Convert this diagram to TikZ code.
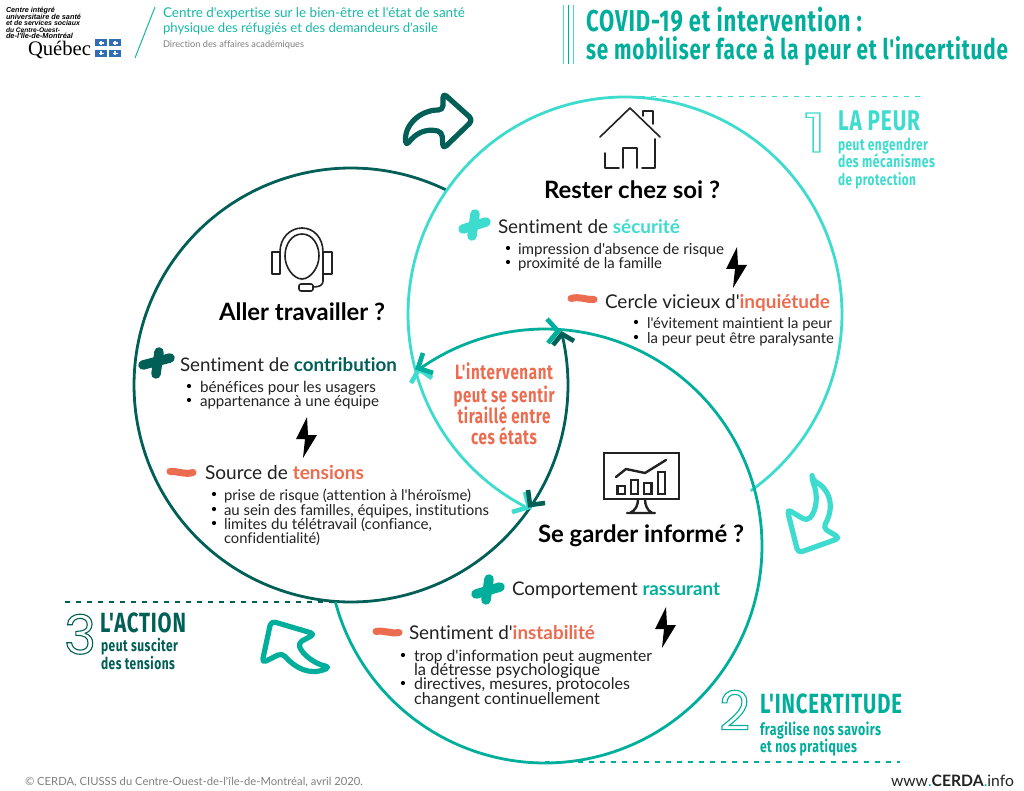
\documentclass[tikz,border=0pt]{standalone}
\usepackage{graphicx}
\usepackage{fontspec}
\setmainfont{Lato}[Ligatures={TeXOff,NoCommon}]
\newfontfamily\headf[FakeStretch=0.73,LetterSpace=3,Ligatures=TeXOff]{Fira Sans}
\newfontfamily\logof{Liberation Sans}
\newfontfamily\qcf{Liberation Serif}
\newfontfamily\digf{Poppins}
\definecolor{lt}{HTML}{3EDCCE}
\definecolor{md}{HTML}{00AE9C}
\definecolor{dk}{HTML}{005F56}
\definecolor{og}{HTML}{EC6C50}
\definecolor{ink}{HTML}{222222}
\definecolor{hdr}{HTML}{18B8A5}
\definecolor{qb}{HTML}{2F6DB5}
\newcommand{\ftx}[2]{\resizebox{#1pt}{!}{\fontsize{17}{20}\selectfont #2}}
\newcommand{\hfx}[2]{\resizebox{#1pt}{!}{\fontsize{20}{24}\selectfont\headf\bfseries #2}}
\newcommand{\outl}[1]{\special{pdf:code 1 Tr 1.1 w}#1\special{pdf:code 0 Tr}}
\newcommand{\boltat}[2]{\fill[black,shift={(#1,#2)}] (1,-20) -- (-10,2) -- (-1,2) -- (-3,21) -- (11,-2) -- (2,-2) -- cycle;}
\tikzset{
 txt/.style={anchor=base west,inner sep=0pt,outer sep=0pt,text=ink,yshift=-1.5pt},
 bul/.style={circle,fill=black,inner sep=0pt,minimum size=4.2pt},
 arr/.style={line width=5.2pt,line join=round,rounded corners=4.5pt},
 ring/.style={line width=2.8pt},
 barb/.style={line width=4.6pt,line cap=butt,line join=miter},
 icon/.style={line width=1.6pt,color=ink,line cap=round,line join=round},
 pl/.style={line width=9.5pt,line cap=round},
 mn/.style={line width=7pt,line cap=round,color=og},
 dsh/.style={line width=1.5pt,dash pattern=on 5pt off 6pt},
 dgt/.style={anchor=base west,inner sep=0pt,font=\fontsize{54}{54}\selectfont\digf},
}
\begin{document}
\begin{tikzpicture}[x=1pt,y=-1pt]
\useasboundingbox[fill=white] (0,0) rectangle (1024,791);
% logo
\node[txt,text=black] (l1) at (6,11) {\resizebox{49pt}{!}{\logof\bfseries\itshape Centre intégré}};
\node[txt,text=black] (l2) at (6,18) {\resizebox{75pt}{!}{\logof\bfseries\itshape universitaire de santé}};
\node[txt,text=black] (l3) at (6,24.5) {\resizebox{74pt}{!}{\logof\bfseries\itshape et de services sociaux}};
\node[txt,text=black] (l4) at (6,31) {\resizebox{54pt}{!}{\logof\bfseries\itshape du Centre-Ouest-}};
\node[txt,text=black] (l5) at (6,37.5) {\resizebox{67pt}{!}{\logof\bfseries\itshape de-l'Île-de-Montréal}};
\node[txt,text=black] (qc) at (28,54) {\resizebox{63pt}{!}{\qcf Québec}};
\foreach \a/\b in {95/39.5,109/39.5,95/50,109/50}{
 \fill[qb] (\a,\b) rectangle ++(12,7);
 \draw[white,line width=1.2pt] (\a+6,\b+1.5) -- (\a+6,\b+5.5) (\a+3.5,\b+3.5) -- (\a+8.5,\b+3.5);
}
\draw[hdr,line width=1pt] (155,7) -- (135,58);
\node[txt,text=hdr] (h1) at (163,16.5) {\ftx{302}{Centre d'expertise sur le bien-être et l'état de santé}};
\node[txt,text=hdr] (h2) at (163,31.5) {\ftx{275}{physique des réfugiés et des demandeurs d'asile}};
\node[txt,text=gray] (h3) at (163,46.5) {\ftx{141}{Direction des affaires académiques}};
% title
\draw[lt,line width=1.2pt] (563.5,5) -- (563.5,64);
\draw[md,line width=1.2pt] (568.5,5) -- (568.5,64);
\draw[lt,line width=1.2pt] (573.5,5) -- (573.5,64);
\node[txt,text=md] (t1) at (586,30) {\hfx{276}{COVID-19 et intervention :}};
\node[txt,text=md] (t2) at (586,58) {\hfx{422}{se mobiliser face à la peur et l'incertitude}};
% dashed
\draw[dsh,lt] (640,96.5) -- (920,96.5);
\draw[dsh,md] (545,762) -- (900,762);
\draw[dsh,dk] (65,602) -- (350,602);
% rings
\draw[ring,dk] plot[domain=-374:-64,samples=200] ({351+217*cos(\x)},{385+217*sin(\x)});
\draw[ring,lt] plot[domain=-242.4:54.6,samples=200] ({625+217*cos(\x)},{314+217*sin(\x)});
\draw[ring,md] plot[domain=-125.8:165,samples=200] ({545+217*cos(\x)},{546+217*sin(\x)});
% barbs
\draw[barb,lt] (411,383) -- (419,369) -- (432,378);
\draw[barb,md] (423,353) -- (418,368) -- (433,373);
\draw[barb,md] (547,319) -- (558,331) -- (548,343);
\draw[barb,dk] (553,345) -- (562,334) -- (574,341);
\draw[barb,lt] (512,512) -- (529,507) -- (525,492);
\draw[barb,dk] (528,490) -- (530,505) -- (545,503);
% arrows
\draw[arr,dk] (443,93) -- (473,120) -- (443,149) -- (442,132) .. controls (425,128) and (415,134) .. (406,146) .. controls (404,125) and (420,110) .. (443,110) -- cycle;
\draw[arr,md] (271,621) -- (315,634) -- (298,643) .. controls (303,655) and (315,664) .. (330,667) .. controls (310,676) and (295,668) .. (282,653) -- (262,663) -- cycle;
\draw[arr,lt] (812,480) .. controls (828,488) and (836,505) .. (823,528) -- (840,538) -- (798,553) -- (787,509) -- (807,521) .. controls (817,510) and (818,495) .. (812,480) -- cycle;
% house
\draw[icon] (600,137) -- (630,108) -- (660,137);
\draw[icon] (643,116) -- (643,111) -- (653,111) -- (653,124);
\draw[icon] (655,139) -- (655,168) -- (642,168);
\draw[icon] (605,153) -- (605,168) -- (619,168);
\draw[icon] (623,168) -- (623,148) -- (637,148) -- (637,168);
% monitor
\draw[icon,line width=2.4pt,line cap=butt,line join=miter] (604,453) rectangle (679,499);
\draw[icon,line width=2.4pt] (638,499) .. controls (638,505) and (636,510) .. (630,513) (645,499) .. controls (645,505) and (647,510) .. (652,513) (627,513) -- (655,513);
\draw[icon,line width=2.4pt,line cap=butt,line join=miter] (617.5,486) rectangle (625,494) (631,480) rectangle (638,494) (644,483) rectangle (651.5,494) (658,472) rectangle (665,494);
\draw[icon,line width=2.4pt] (616,477) -- (626,469) -- (645,473) -- (666,460);
% headset
\draw[icon] (272,252) rectangle (280,274) (323,252) rectangle (332,274);
\draw[icon] (280,252) .. controls (280,238) and (290,228) .. (302,228) .. controls (314,228) and (323,238) .. (323,252);
\draw[icon] (302,234) .. controls (312,234) and (319,244) .. (319,256) .. controls (319,268) and (310,279) .. (302,279) .. controls (294,279) and (285,268) .. (285,256) .. controls (285,244) and (292,234) .. (302,234);
\draw[icon] (323,274) -- (323,281) .. controls (323,285) and (320,287) .. (313,287);
\draw[icon,rounded corners=2pt] (299,284) rectangle (313,291);
% plus / minus
\draw[pl,lt] (475,214) -- (472,236) (463,229) -- (486,222);
\draw[pl,dk] (159,352) -- (156,374) (143,365) -- (170,358);
\draw[pl,md] (489,579) -- (486,600) (476,594) -- (500,587);
\draw[mn] (571,298.5) .. controls (580,296) and (585,300) .. (594,299.5);
\draw[mn] (170,471.5) .. controls (178,471) and (185,475) .. (193,472.5);
\draw[mn] (376,631.5) .. controls (385,630) and (390,634) .. (399,632.5);
% bolts
\boltat{736}{267}
\boltat{306}{437}
\boltat{665}{627}
% house text
\node[txt,text=black] (a0) at (544,197) {\ftx{176}{\bfseries Rester chez soi ?}};
\node[txt] (a1) at (498,232) {\ftx{182}{Sentiment de \textbf{\color{lt}sécurité}}};
\node[bul] (ab1) at (508,248) {};
\node[txt] (a2) at (518,253) {\ftx{206}{impression d'absence de risque}};
\node[bul] (ab2) at (508,262) {};
\node[txt] (a3) at (518,267) {\ftx{144}{proximité de la famille}};
\node[txt] (a4) at (605,307) {\ftx{225}{Cercle vicieux d'\textbf{\color{og}inquiétude}}};
\node[bul] (ab3) at (636,322) {};
\node[txt] (a5) at (647,327) {\ftx{185}{l'évitement maintient la peur}};
\node[bul] (ab4) at (636,337) {};
\node[txt] (a6) at (647,342) {\ftx{187}{la peur peut être paralysante}};
% work text
\node[txt,text=black] (b0) at (219,319) {\ftx{166}{\bfseries Aller travailler ?}};
\node[txt] (b1) at (180,370) {\ftx{217}{Sentiment de \textbf{\color{dk}contribution}}};
\node[bul] (bb1) at (189,386) {};
\node[txt] (b2) at (200,391) {\ftx{176}{bénéfices pour les usagers}};
\node[bul] (bb2) at (189,400) {};
\node[txt] (b3) at (200,405) {\ftx{179}{appartenance à une équipe}};
\node[txt] (b4) at (205,478) {\ftx{159}{Source de \textbf{\color{og}tensions}}};
\node[bul] (bb3) at (214,494) {};
\node[txt] (b5) at (224,499) {\ftx{247}{prise de risque (attention à l'héroïsme)}};
\node[bul] (bb4) at (214,509) {};
\node[txt] (b6) at (224,514) {\ftx{265}{au sein des familles, équipes, institutions}};
\node[bul] (bb5) at (214,523) {};
\node[txt] (b7) at (224,528) {\ftx{208}{limites du télétravail (confiance,}};
\node[txt] (b8) at (224,542) {\ftx{96}{confidentialité)}};
% info text
\node[txt,text=black] (c0) at (538,541) {\ftx{206}{\bfseries Se garder informé ?}};
\node[txt] (c1) at (512,594) {\ftx{208}{Comportement \textbf{\color{md}rassurant}}};
\node[txt] (c2) at (409,638) {\ftx{186}{Sentiment d'\textbf{\color{og}instabilité}}};
\node[bul] (cb1) at (403,655) {};
\node[txt] (c3) at (414,660) {\ftx{238}{trop d'information peut augmenter}};
\node[txt] (c4) at (414,674) {\ftx{186}{la détresse psychologique}};
\node[bul] (cb2) at (403,683) {};
\node[txt] (c5) at (414,688) {\ftx{216}{directives, mesures, protocoles}};
\node[txt] (c6) at (414,703) {\ftx{186}{changent continuellement}};
% centre
\node[txt,text=og,anchor=base] (m1) at (504,378) {\hfx{98}{L'intervenant}};
\node[txt,text=og,anchor=base] (m2) at (504,401) {\hfx{101}{peut se sentir}};
\node[txt,text=og,anchor=base] (m3) at (504,422) {\hfx{93}{tiraillé entre}};
\node[txt,text=og,anchor=base] (m4) at (504,443) {\hfx{66}{ces états}};
% labels
\node[dgt,text=lt,xscale=1.35] (d1) at (803,152) {\outl{1}};
\node[txt,text=lt] (p0) at (838,129) {\hfx{82}{LA PEUR}};
\node[txt,text=lt] (p1) at (838,149) {\hfx{90}{peut engendrer}};
\node[txt,text=lt] (p2) at (838,166) {\hfx{97}{des mécanismes}};
\node[txt,text=lt] (p3) at (838,184) {\hfx{78}{de protection}};
\node[dgt,text=md] (d2) at (719,730) {\outl{2}};
\node[txt,text=md] (i0) at (760,712) {\hfx{142}{L'INCERTITUDE}};
\node[txt,text=md] (i1) at (760,734) {\hfx{121}{fragilise nos savoirs}};
\node[txt,text=md] (i2) at (760,751) {\hfx{97}{et nos pratiques}};
\node[dgt,text=dk] (d3) at (64,654) {\outl{3}};
\node[txt,text=dk] (x0) at (100,631) {\hfx{86}{L'ACTION}};
\node[txt,text=dk] (x1) at (101,650) {\hfx{77}{peut susciter}};
\node[txt,text=dk] (x2) at (101,668) {\hfx{74}{des tensions}};
% footer
\node[txt,text=gray] (f1) at (25,783.5) {\ftx{338}{© CERDA, CIUSSS du Centre-Ouest-de-l'île-de-Montréal, avril 2020.}};
\node[txt] (f2) at (891,784.5) {\ftx{123}{www\textcolor{md}{.}\textbf{CERDA}\textcolor{md}{.}info}};
\end{tikzpicture}
\end{document}
